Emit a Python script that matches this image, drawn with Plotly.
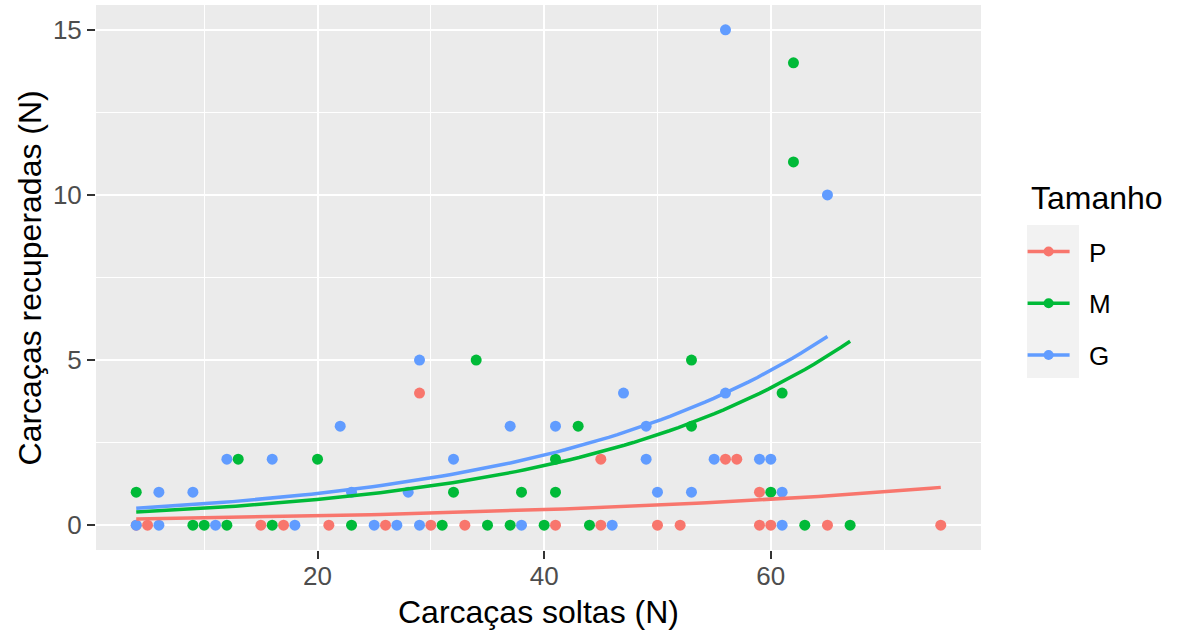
import numpy as np
import plotly.graph_objects as go

# Carcasses released (soltas) and recovered (recuperadas), by size class
p_soltas = [4, 5, 15, 17, 21, 26, 30, 33, 41, 45, 50, 52, 59, 60, 65, 75,
            59, 45, 56, 57, 29]
p_recup = [0, 0, 0, 0, 0, 0, 0, 0, 0, 0, 0, 0, 0, 0, 0, 0,
           1, 2, 2, 2, 4]

m_soltas = [9, 10, 12, 16, 23, 31, 35, 37, 40, 44, 63, 67,
            4, 32, 38, 41, 60, 13, 20, 41, 43, 53, 61, 34, 53, 62, 62]
m_recup = [0, 0, 0, 0, 0, 0, 0, 0, 0, 0, 0, 0,
           1, 1, 1, 1, 1, 2, 2, 2, 3, 3, 4, 5, 5, 11, 14]

g_soltas = [4, 6, 11, 18, 25, 27, 29, 38, 46, 61,
            6, 9, 23, 28, 50, 53, 61, 12, 16, 32, 49, 55, 59, 60,
            22, 37, 41, 49, 47, 56, 29, 65, 56]
g_recup = [0, 0, 0, 0, 0, 0, 0, 0, 0, 0,
           1, 1, 1, 1, 1, 1, 1, 2, 2, 2, 2, 2, 2, 2,
           3, 3, 3, 3, 4, 4, 5, 10, 15]

# Poisson (log-link) model coefficients per size class: log(mu) = b0 + b1 * soltas
groups = ["P", "M", "G"]
fit_b0 = [-1.761, -1.083, -0.831]
fit_b1 = [0.0253, 0.0418, 0.0396]

colors = ["#F8766D", "#00BA38", "#619CFF"]
series = [(p_soltas, p_recup), (m_soltas, m_recup), (g_soltas, g_recup)]

x_ticks = [20, 40, 60]
y_ticks = [0, 5, 10, 15]

FONT = "Liberation Sans, Arial, sans-serif"
fig = go.Figure()

# points layer
for g, col, (xs, ys) in zip(groups, colors, series):
    fig.add_trace(go.Scatter(
        x=xs, y=ys, mode="markers", legendgroup=g, showlegend=False,
        marker=dict(color=col, size=11, line=dict(width=0)),
        hoverinfo="x+y"))

# fitted curves, drawn over the points across each group's range
for g, col, (xs, ys), b0, b1 in zip(groups, colors, series, fit_b0, fit_b1):
    grid = np.linspace(min(xs), max(xs), 80)
    fig.add_trace(go.Scatter(
        x=grid, y=np.exp(b0 + b1 * grid), mode="lines", legendgroup=g,
        showlegend=False, line=dict(color=col, width=3.5),
        hoverinfo="skip"))

# legend keys (line + point)
for i, (g, col) in enumerate(zip(groups, colors)):
    fig.add_trace(go.Scatter(
        x=[None], y=[None], mode="lines+markers", name="\u00a0\u00a0" + g,
        legendgroup=g, legendrank=i + 1, showlegend=True,
        line=dict(color=col, width=3.5),
        marker=dict(color=col, size=10)))

axis_common = dict(
    showline=False, zeroline=False, ticks="outside", ticklen=8, tickwidth=1.6,
    tickcolor="#333333", gridcolor="#FFFFFF", gridwidth=2,
    tickfont=dict(family=FONT, size=26, color="#4D4D4D"),
)

fig.update_xaxes(
    range=[0.45, 78.55], tickvals=x_ticks, ticktext=[str(v) for v in x_ticks],
    ticklabelstandoff=-5,
    minor=dict(tickvals=[10, 30, 50, 70], showgrid=True, gridcolor="#FFFFFF",
               gridwidth=1, ticks=""),
    **axis_common)
fig.update_yaxes(
    range=[-0.75, 15.75], tickvals=y_ticks, ticktext=[str(v) for v in y_ticks],
    minor=dict(tickvals=[2.5, 7.5, 12.5], showgrid=True, gridcolor="#FFFFFF",
               gridwidth=1, ticks=""),
    **axis_common)

fig.update_layout(
    width=1179, height=636,
    margin=dict(l=96, r=198, t=5, b=86),
    paper_bgcolor="#FFFFFF", plot_bgcolor="#EBEBEB",
    font=dict(family=FONT, color="#000000"),
    showlegend=True,
    legend=dict(
        x=1.047, y=0.5908, xanchor="left", yanchor="top",
        bgcolor="rgba(0,0,0,0)", borderwidth=0,
        font=dict(family=FONT, size=26, color="#000000"),
        tracegroupgap=15, itemwidth=42, traceorder="grouped",
    ),
    shapes=[dict(type="rect", xref="paper", yref="paper",
                 x0=1.052, x1=1.1107, y0=0.3156, y1=0.5963,
                 fillcolor="#F2F2F2", line=dict(width=0), layer="below")],
    annotations=[
        dict(text="Tamanho", xref="paper", yref="paper",
             x=1.0542, y=0.6459, xanchor="left", yanchor="middle",
             showarrow=False, font=dict(family=FONT, size=32, color="#000000")),
        dict(text="Carcaças soltas (N)", xref="paper", yref="paper",
             x=0.5, y=-0.1138, xanchor="center", yanchor="middle",
             showarrow=False, font=dict(family=FONT, size=32, color="#000000")),
        dict(text="Carcaças recuperadas (N)", xref="paper", yref="paper",
             x=-0.0746, y=0.5, xanchor="center", yanchor="middle", textangle=-90,
             showarrow=False, font=dict(family=FONT, size=32, color="#000000")),
    ],
)

fig.write_html("out.html")
